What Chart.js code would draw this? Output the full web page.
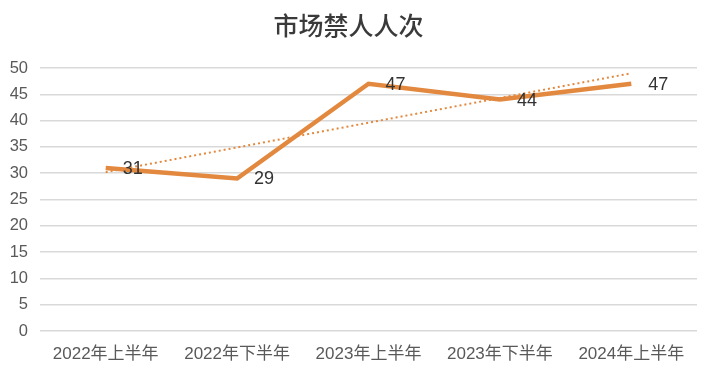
<!DOCTYPE html>
<html>
<head>
<meta charset="utf-8">
<script src="https://cdn.jsdelivr.net/npm/chart.js@4/dist/chart.umd.min.js"></script>
<style>
  html, body { margin: 0; padding: 0; background: #fff; }
  #c { display: block; }
</style>
</head>
<body>
<canvas id="c" width="717" height="370"></canvas>
<script>
// 数据
const periods = ["2022年上半年", "2022年下半年", "2023年上半年", "2023年下半年", "2024年上半年"];
const bannedCounts = [31, 29, 47, 44, 47];
const trendValues = [30.2, 34.9, 39.6, 44.3, 49.0];   // 图中的线性趋势线
const yTicks = [0, 5, 10, 15, 20, 25, 30, 35, 40, 45, 50];

const fontFamily = '"Liberation Sans", "Noto Sans CJK SC", sans-serif';
const orange = "#E2893F";

// 数据标签画在点的右侧
const valueLabels = {
    id: "valueLabels",
    afterDatasetsDraw(chart) {
        const meta = chart.getDatasetMeta(0);
        const ctx = chart.ctx;
        ctx.save();
        ctx.font = "18px " + fontFamily;
        ctx.fillStyle = "#333";
        ctx.textAlign = "left";
        ctx.textBaseline = "middle";
        meta.data.forEach((pt, i) => {
            ctx.fillText(String(bannedCounts[i]), pt.x + 17, pt.y + 1);
        });
        ctx.restore();
    }
};

new Chart(document.getElementById("c").getContext("2d"), {
    type: "line",
    data: {
        labels: periods,
        datasets: [{
            label: "市场禁人人次",
            data: bannedCounts,
            borderColor: orange,
            borderWidth: 4.5,
            pointRadius: 0,
            tension: 0,
            order: 1
        }, {
            label: "趋势线",
            data: trendValues,
            borderColor: orange,
            borderWidth: 2,
            borderDash: [2, 3],
            pointRadius: 0,
            tension: 0,
            order: 2
        }]
    },
    options: {
        responsive: false,
        animation: false,
        layout: { padding: { left: 0, right: 20, top: 0, bottom: 0 } },
        plugins: {
            legend: { display: false },
            tooltip: { enabled: false },
            title: {
                display: true,
                text: "市场禁人人次",
                color: "#3A3A3A",
                font: { size: 25, family: '"Noto Sans CJK SC", sans-serif', weight: "500" },
                padding: { top: 10, bottom: 28 }
            }
        },
        scales: {
            x: {
                offset: true,
                afterFit(axis) { axis.height = 39; },
                grid: { display: false, drawTicks: false },
                border: { display: false },
                ticks: {
                    color: "#595959",
                    font: { size: 17, family: fontFamily },
                    padding: 13,
                    maxRotation: 0
                }
            },
            y: {
                min: 0,
                max: 50,
                afterFit(axis) { axis.width = 40; },
                afterBuildTicks(axis) { axis.ticks = yTicks.map(v => ({ value: v })); },
                grid: { color: "#D9D9D9", lineWidth: 1.5, drawTicks: false },
                border: { display: false },
                ticks: {
                    color: "#595959",
                    font: { size: 16.5, family: fontFamily },
                    padding: 12
                }
            }
        }
    },
    plugins: [valueLabels]
});
</script>
</body>
</html>
